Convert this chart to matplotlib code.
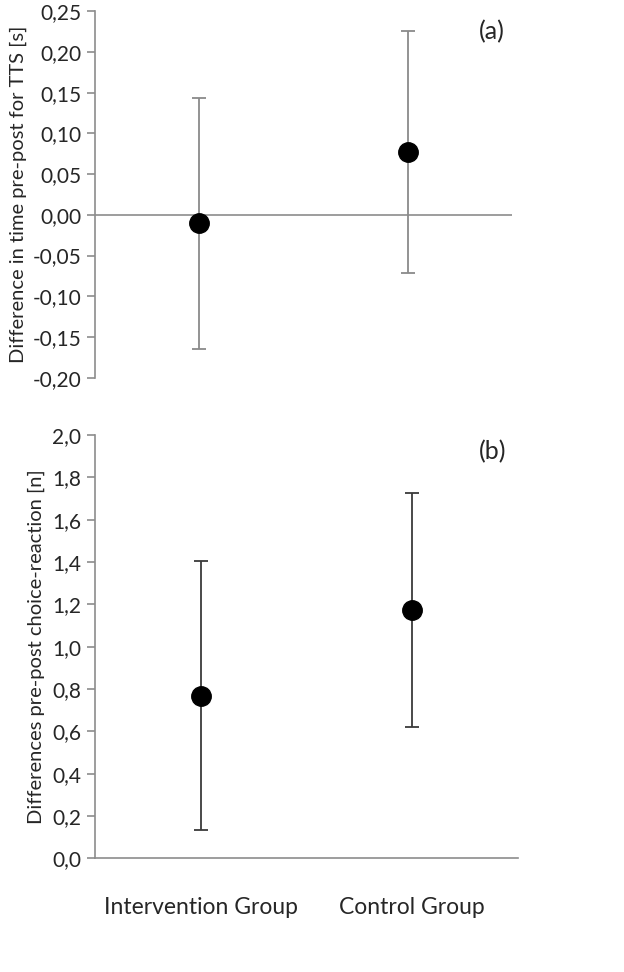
import matplotlib.pyplot as plt
from matplotlib.ticker import FuncFormatter

groups = ["Intervention Group", "Control Group"]

# panel (a): TTS time difference
tts_mean = [-0.010, 0.077]
tts_low = [-0.165, -0.071]
tts_high = [0.144, 0.226]

# panel (b): choice-reaction difference
cr_mean = [0.768, 1.174]
cr_low = [0.134, 0.620]
cr_high = [1.404, 1.726]

plt.rcParams['font.family'] = ['Lato', 'DejaVu Sans']
txt = '#262626'
axcol = '#8c8c8c'


def comma(dec):
    return FuncFormatter(lambda v, p: ("{:.%df}" % dec).format(v).replace('.', ','))


fig = plt.figure(figsize=(6.24, 9.72), dpi=100)
ax1 = fig.add_axes([95/624, 1-377.7/972, 417/624, 366.4/972])
ax2 = fig.add_axes([95/624, 1-858.3/972, 423/624, 423.3/972])

x = [1, 2]

err1 = [[m - l for m, l in zip(tts_mean, tts_low)], [h - m for m, h in zip(tts_mean, tts_high)]]
ax1.axhline(0, color=axcol, lw=1.2, zorder=1)
ax1.errorbar(x, tts_mean, yerr=err1, fmt='o', color='black', ms=14,
             ecolor='#8a8a8a', elinewidth=1.3, capsize=5, capthick=1.3, zorder=3)
ax1.set_ylim(-0.20, 0.25)
ax1.set_yticks([-0.20, -0.15, -0.10, -0.05, 0.0, 0.05, 0.10, 0.15, 0.20, 0.25])
ax1.yaxis.set_major_formatter(comma(2))
ax1.set_ylabel("Difference in time pre-post for TTS [s]", fontsize=14.5, color=txt, labelpad=4)
fig.text(492/624, 1-32/972, "(a)", fontsize=18, color=txt, ha='center', va='center')

err2 = [[m - l for m, l in zip(cr_mean, cr_low)], [h - m for m, h in zip(cr_mean, cr_high)]]
ax2.errorbar(x, cr_mean, yerr=err2, fmt='o', color='black', ms=14,
             ecolor='#3a3a3a', elinewidth=1.3, capsize=5, capthick=1.3, zorder=3)
ax2.set_ylim(0, 2.0)
ax2.set_yticks([0.0, 0.2, 0.4, 0.6, 0.8, 1.0, 1.2, 1.4, 1.6, 1.8, 2.0])
ax2.yaxis.set_major_formatter(comma(1))
ax2.set_ylabel("Differences pre-post choice-reaction [n]", fontsize=14.5, color=txt, labelpad=5)
fig.text(493/624, 1-452/972, "(b)", fontsize=18, color=txt, ha='center', va='center')
ax2.set_xticks(x)
ax2.set_xticklabels(groups)
ax2.tick_params(axis='x', length=0, pad=28, labelsize=16.5, colors=txt)

for ax in (ax1, ax2):
    ax.set_xlim(0.5, 2.5)
    for s in ('top', 'right'):
        ax.spines[s].set_visible(False)
    ax.spines['left'].set_color(axcol)
    ax.spines['left'].set_linewidth(1.2)
    ax.tick_params(axis='y', length=6, width=1.2, color=axcol, labelsize=15, labelcolor=txt, pad=4)

ax1.spines['bottom'].set_visible(False)
ax1.set_xticks([])
ax2.spines['bottom'].set_color(axcol)
ax2.spines['bottom'].set_linewidth(1.2)

fig.savefig("out.png", dpi=100)
